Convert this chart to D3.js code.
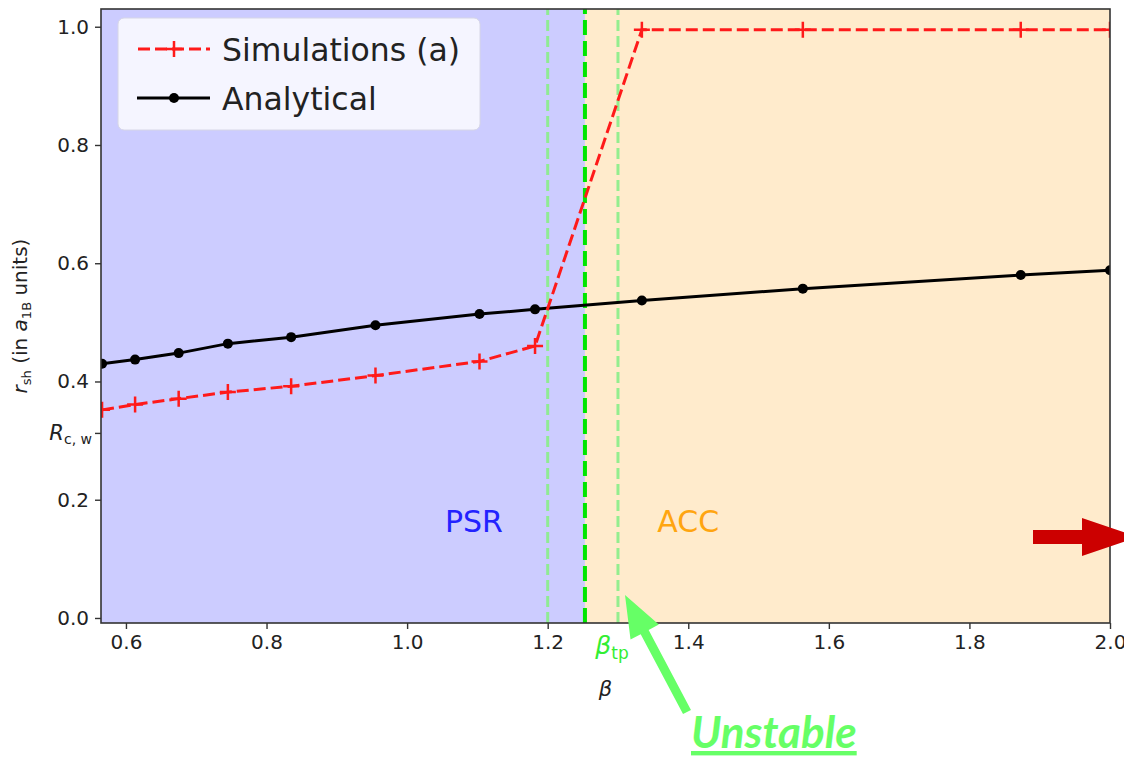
<!DOCTYPE html>
<html>
<head>
<meta charset="utf-8">
<script src="https://cdn.jsdelivr.net/npm/d3@7/dist/d3.min.js"></script>
<style>
  html, body { margin: 0; padding: 0; background: #fff; overflow: hidden; }
  svg { display: block; font-family: "DejaVu Sans", sans-serif; }
</style>
</head>
<body>
<div id="chart"></div>
<script>
// Data
const beta = [0.566, 0.613, 0.675, 0.745, 0.835, 0.955, 1.103, 1.182, 1.334, 1.563, 1.873, 2.0];
const rSim = [0.352, 0.361, 0.371, 0.382, 0.392, 0.410, 0.434, 0.460, 0.995, 0.995, 0.995, 0.995];
const rAna = [0.430, 0.437, 0.448, 0.464, 0.475, 0.495, 0.514, 0.522, 0.537, 0.557, 0.580, 0.588];

const xTicks = [0.6, 0.8, 1.0, 1.2, 1.4, 1.6, 1.8, 2.0];
const yTicks = [0.0, 0.2, 0.4, 0.6, 0.8, 1.0];
const betaTp = 1.253;      // transition point (thick green line)
const betaLow = 1.2;       // light green dashed lines
const betaHigh = 1.3;
const rcw = 0.313;         // R_c,w extra y tick

const W = 1124, H = 758;
const plot = {left: 101, right: 1110, top: 9, bottom: 623};

const svg = d3.select("#chart").append("svg")
    .attr("width", W).attr("height", H);

const x = d3.scaleLinear().domain([0.5645, 2.0]).range([plot.left, plot.right]);
const y = d3.scaleLinear().domain([-0.0085, 1.03]).range([plot.bottom, plot.top]);

svg.append("defs").append("clipPath").attr("id", "clip")
    .append("rect")
    .attr("x", plot.left).attr("y", plot.top)
    .attr("width", plot.right - plot.left).attr("height", plot.bottom - plot.top);

// Regions
svg.append("rect")
    .attr("x", x(0.5645)).attr("y", plot.top)
    .attr("width", x(betaTp) - x(0.5645)).attr("height", plot.bottom - plot.top)
    .attr("fill", "#ccccff");
svg.append("rect")
    .attr("x", x(betaTp)).attr("y", plot.top)
    .attr("width", x(2.0) - x(betaTp)).attr("height", plot.bottom - plot.top)
    .attr("fill", "#ffebcc");

const g = svg.append("g").attr("clip-path", "url(#clip)");

// Vertical marker lines
[betaLow, betaHigh].forEach(b => {
    g.append("line")
        .attr("x1", x(b)).attr("x2", x(b))
        .attr("y1", plot.bottom).attr("y2", plot.top)
        .attr("stroke", "#88ee88").attr("stroke-opacity", 0.9)
        .attr("stroke-width", 3).attr("stroke-dasharray", "11,5");
});
g.append("line")
    .attr("x1", x(betaTp)).attr("x2", x(betaTp))
    .attr("y1", plot.bottom).attr("y2", plot.top)
    .attr("stroke", "#00e600").attr("stroke-width", 4).attr("stroke-dasharray", "15,6");

// Analytical
const line = d3.line().x(d => x(d[0])).y(d => y(d[1]));
const ana = beta.map((b, i) => [b, rAna[i]]);
const sim = beta.map((b, i) => [b, rSim[i]]);

g.append("path").datum(ana).attr("d", line)
    .attr("fill", "none").attr("stroke", "#000").attr("stroke-width", 3);
g.selectAll(".dot").data(ana).enter().append("circle")
    .attr("cx", d => x(d[0])).attr("cy", d => y(d[1])).attr("r", 5).attr("fill", "#000");

// Simulations
g.append("path").datum(sim).attr("d", line)
    .attr("fill", "none").attr("stroke", "#ff1a1a").attr("stroke-width", 3)
    .attr("stroke-dasharray", "12,5");
const plus = "M-8,0H8M0,-8V8";
g.selectAll(".plus").data(sim).enter().append("path")
    .attr("transform", d => `translate(${x(d[0])},${y(d[1])})`)
    .attr("d", plus).attr("stroke", "#ff1a1a").attr("stroke-width", 2.5);

// Region labels
svg.append("text").attr("x", x(1.095)).attr("y", y(0.145))
    .attr("text-anchor", "middle").attr("font-size", 30).attr("fill", "#2222ff").text("PSR");
svg.append("text").attr("x", x(1.40)).attr("y", y(0.145))
    .attr("text-anchor", "middle").attr("font-size", 30).attr("fill", "#ffa510").text("ACC");

// Spines
svg.append("rect")
    .attr("x", plot.left).attr("y", plot.top)
    .attr("width", plot.right - plot.left).attr("height", plot.bottom - plot.top)
    .attr("fill", "none").attr("stroke", "#333").attr("stroke-width", 1.6);

// X axis
const xAxis = svg.append("g").attr("transform", `translate(0,${plot.bottom})`)
    .call(d3.axisBottom(x).tickValues(xTicks).tickFormat(d3.format(".1f")).tickSize(6).tickPadding(6));
xAxis.select(".domain").remove();
xAxis.selectAll("text").attr("font-size", 20).attr("fill", "#222").attr("font-family", "DejaVu Sans");
xAxis.selectAll("line").attr("stroke", "#333").attr("stroke-width", 1.4);

// Y axis
const yAxis = svg.append("g").attr("transform", `translate(${plot.left},0)`)
    .call(d3.axisLeft(y).tickValues(yTicks.concat([rcw])).tickFormat(d => d === rcw ? "" : d3.format(".1f")(d)).tickSize(6).tickPadding(6));
yAxis.select(".domain").remove();
yAxis.selectAll("text").attr("font-size", 20).attr("fill", "#222").attr("font-family", "DejaVu Sans");
yAxis.selectAll("line").attr("stroke", "#333").attr("stroke-width", 1.4);

// R_c,w label
const rl = svg.append("text").attr("x", plot.left - 9).attr("y", y(rcw) + 7)
    .attr("text-anchor", "end").attr("font-size", 21).attr("fill", "#222");
rl.append("tspan").attr("font-style", "italic").text("R");
rl.append("tspan").attr("font-size", 14).attr("dy", 4).text("c, w");

// beta_tp label
const bt = svg.append("text").attr("x", x(betaHigh) - 6).attr("y", plot.bottom + 31)
    .attr("text-anchor", "middle").attr("font-size", 25).attr("fill", "#33ee33");
bt.append("tspan").attr("font-style", "italic").text("β");
bt.append("tspan").attr("font-size", 17).attr("dy", 5).text("tp");

// Axis labels
svg.append("text").attr("x", (plot.left + plot.right) / 2).attr("y", 696)
    .attr("text-anchor", "middle").attr("font-size", 21).attr("font-style", "italic")
    .attr("fill", "#222").text("β");

const yl = svg.append("text")
    .attr("transform", `translate(27,${(plot.top + plot.bottom) / 2}) rotate(-90)`)
    .attr("text-anchor", "middle").attr("font-size", 20).attr("fill", "#222");
yl.append("tspan").attr("font-style", "italic").text("r");
yl.append("tspan").attr("font-size", 13).attr("dy", 4).text("sh");
yl.append("tspan").attr("dy", -4).text(" (in ");
yl.append("tspan").attr("font-style", "italic").text("a");
yl.append("tspan").attr("font-size", 13).attr("dy", 4).text("1B");
yl.append("tspan").attr("dy", -4).text(" units)");

// Legend
const lg = svg.append("g").attr("transform", "translate(118,18)");
lg.append("rect").attr("width", 362).attr("height", 112).attr("rx", 6)
    .attr("fill", "#ffffff").attr("fill-opacity", 0.8).attr("stroke", "#d6d6e6");
lg.append("line").attr("x1", 20).attr("x2", 92).attr("y1", 31).attr("y2", 31)
    .attr("stroke", "#ff1a1a").attr("stroke-width", 3).attr("stroke-dasharray", "12,5");
lg.append("path").attr("transform", "translate(56,31)").attr("d", plus)
    .attr("stroke", "#ff1a1a").attr("stroke-width", 2.5);
lg.append("line").attr("x1", 19).attr("x2", 92).attr("y1", 80).attr("y2", 80)
    .attr("stroke", "#000").attr("stroke-width", 3);
lg.append("circle").attr("cx", 56).attr("cy", 80).attr("r", 5).attr("fill", "#000");
lg.append("text").attr("x", 104).attr("y", 43).attr("font-size", 31.5).attr("fill", "#222").text("Simulations (a)");
lg.append("text").attr("x", 104).attr("y", 92).attr("font-size", 31.5).attr("fill", "#222").text("Analytical");

// Red arrow on the right
svg.append("path")
    .attr("d", "M1033,530H1082V518L1138,537L1082,556V544H1033Z")
    .attr("fill", "#cc0000");

// Green "Unstable" arrow
(function () {
    const tail = [687, 712], tip = [625, 595];
    const dx = tip[0] - tail[0], dy = tip[1] - tail[1];
    const len = Math.hypot(dx, dy), ux = dx / len, uy = dy / len;
    const nx = -uy, ny = ux;
    const hl = 42, hw = 16, sw = 4.5;
    const bx = tip[0] - ux * hl, by = tip[1] - uy * hl;
    const pts = [
        [tail[0] + nx * sw, tail[1] + ny * sw],
        [bx + nx * sw, by + ny * sw],
        [bx + nx * hw, by + ny * hw],
        tip,
        [bx - nx * hw, by - ny * hw],
        [bx - nx * sw, by - ny * sw],
        [tail[0] - nx * sw, tail[1] - ny * sw]
    ];
    svg.append("polygon").attr("points", pts.map(p => p.join(",")).join(" "))
        .attr("fill", "#66ff66");
})();

svg.append("text").attr("x", 691).attr("y", 748)
    .attr("font-family", "Lato, sans-serif").attr("font-weight", "bold").attr("font-style", "italic")
    .attr("font-size", 44).attr("fill", "#66ff66").attr("text-decoration", "underline")
    .text("Unstable");
</script>
</body>
</html>
